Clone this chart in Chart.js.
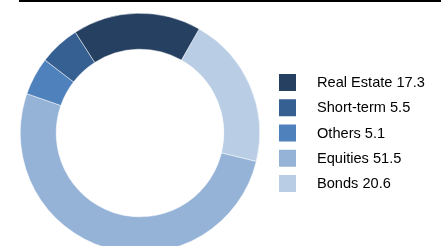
<!DOCTYPE html>
<html lang="en">
<head>
    <meta charset="UTF-8">
    <title>Portfolio Allocation</title>
    <script src="https://cdn.jsdelivr.net/npm/chart.js"></script>
    <style>
        html, body {
            margin: 0;
            padding: 0;
            width: 441px;
            height: 246px;
            overflow: hidden;
            background: #ffffff;
        }
        .top-rule {
            position: absolute;
            left: 19px;
            top: 0;
            width: 422px;
            height: 2px;
            background: #000000;
        }
        .chart-box {
            position: absolute;
            left: 0;
            top: 0;
            width: 441px;
            height: 270px;
        }
    </style>
</head>
<body>
    <div class="chart-box"><canvas id="allocChart"></canvas></div>
    <div class="top-rule"></div>

    <script>
        // Legend order (top to bottom)
        const categories = ['Real Estate', 'Short-term', 'Others', 'Equities', 'Bonds'];
        const shares = [17.3, 5.5, 5.1, 51.5, 20.6];
        const colors = ['#254061', '#376092', '#4f81bd', '#95b3d7', '#b9cde5'];

        // Slices run counter-clockwise in legend order, so feed them reversed
        const sliceLabels = categories.slice().reverse();
        const sliceValues = shares.slice().reverse();
        const sliceColors = colors.slice().reverse();

        // Simple legend drawn on the canvas, to the right of the ring
        const sideLegend = {
            id: 'sideLegend',
            afterDraw(chart) {
                const ctx = chart.ctx;
                ctx.save();
                ctx.font = '14.6px "Liberation Sans", Arial, sans-serif';
                ctx.textBaseline = 'middle';
                ctx.fillStyle = '#000000';
                categories.forEach((name, i) => {
                    const y = 74 + i * 25.25;
                    ctx.fillStyle = colors[i];
                    ctx.fillRect(279, y, 17, 17);
                    ctx.fillStyle = '#000000';
                    ctx.fillText(name + ' ' + shares[i], 317, y + 9);
                });
                ctx.restore();
            }
        };

        const ctx = document.getElementById('allocChart').getContext('2d');
        new Chart(ctx, {
            type: 'doughnut',
            data: {
                labels: sliceLabels,
                datasets: [{
                    data: sliceValues,
                    backgroundColor: sliceColors,
                    borderColor: '#ffffff',
                    borderWidth: 0.5
                }]
            },
            options: {
                responsive: true,
                maintainAspectRatio: false,
                animation: false,
                rotation: 29.6,
                cutout: '70%',
                layout: {
                    padding: { top: 13, bottom: 17, left: 20, right: 181 }
                },
                plugins: {
                    legend: { display: false },
                    tooltip: { enabled: false }
                }
            },
            plugins: [sideLegend]
        });
    </script>
</body>
</html>
